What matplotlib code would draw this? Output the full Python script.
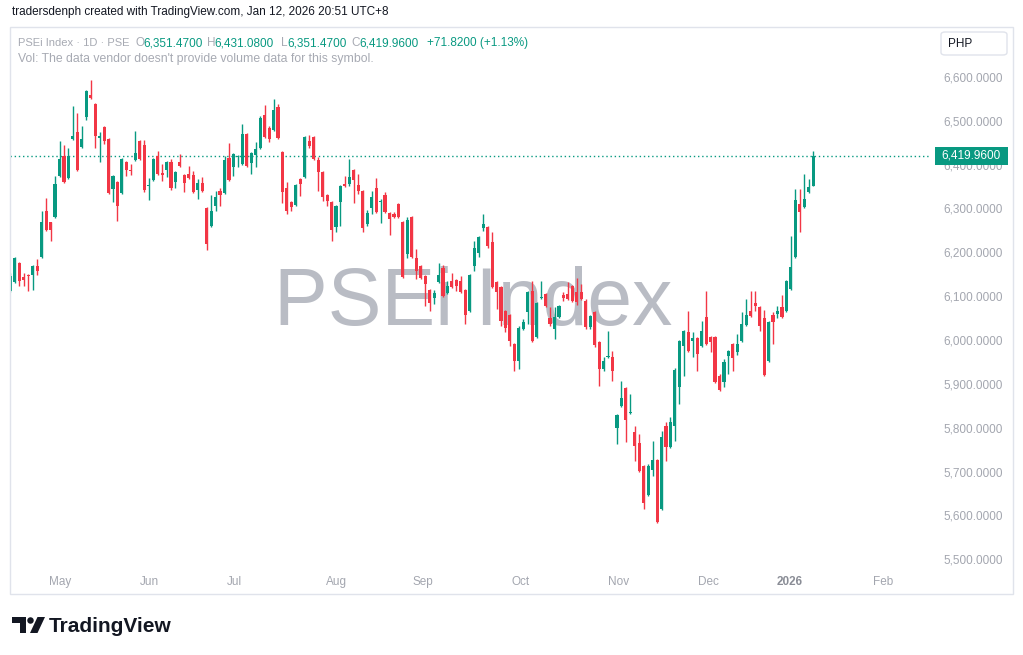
import matplotlib
matplotlib.use('Agg')
import matplotlib.pyplot as plt
import matplotlib.patches as mpatches
import numpy as np

plt.rcParams['font.family'] = ['Liberation Sans', 'DejaVu Sans']

###  DATA  (daily OHLC, PSEi)  ###

opens = [6111.7, 6132.3, 6175.6, 6143.7, 6148.2, 6148.2, 6168.7, 6189.3, 6294.1, 6269.1,
         6280.5, 6373.9, 6419.5, 6369.4, 6458.3, 6474.3, 6440.1, 6508.5, 6558.6, 6538.1,
         6460.6, 6485.7, 6458.3, 6344.3, 6360.3, 6335.2, 6405.9, 6387.6, 6410.4, 6453.7,
         6444.6, 6351.1, 6364.8, 6419.5, 6380.8, 6387.6, 6405.9, 6360.3, 6405.9, 6376.2,
         6378.5, 6376.2, 6342.0, 6358.0, 6301.0, 6260.0, 6305.5, 6339.7, 6335.2, 6415.0,
         6394.5, 6417.3, 6401.3, 6469.7, 6403.6, 6421.8, 6437.8, 6513.0, 6483.4, 6478.8,
         6531.3, 6428.7, 6346.6, 6314.7, 6307.8, 6367.1, 6371.7, 6453.7, 6462.9, 6410.4,
         6383.1, 6330.6, 6314.7, 6257.7, 6314.7, 6355.7, 6355.7, 6387.6, 6353.4, 6339.7,
         6264.5, 6301.0, 6346.6, 6314.7, 6330.6, 6289.6, 6287.3, 6310.1, 6269.1, 6196.1,
         6280.5, 6187.0, 6168.7, 6145.9, 6114.0, 6095.8, 6132.3, 6164.2, 6107.2, 6134.5,
         6136.8, 6134.5, 6114.0, 6066.1, 6168.7, 6198.4, 6255.4, 6257.7, 6223.5, 6132.3,
         6120.9, 6066.1, 6057.0, 5990.9, 5952.1, 6025.1, 6063.9, 6111.7, 6006.9, 6095.8,
         6104.9, 6050.2, 6025.1, 6052.5, 6102.6, 6104.9, 6123.1, 6109.5, 6109.5, 6089.0,
         6029.7, 6063.9, 5995.5, 5933.9, 5961.3, 5961.3, 5799.4, 5849.5, 5890.6, 5833.6,
         5790.3, 5765.2, 5712.7, 5646.6, 5703.6, 5726.4, 5614.7, 5803.9, 5756.1, 5803.9,
         5892.9, 5986.3, 6018.3, 5997.7, 6004.6, 5986.3, 6052.5, 6006.9, 6006.9, 5917.9,
         5904.3, 5963.5, 5990.9, 5972.7, 5997.7, 6034.2, 6066.1, 6084.4, 6075.3, 6050.2,
         5952.1, 6057.0, 6059.3, 6075.3, 6066.1, 6116.3, 6189.3, 6310.1, 6303.3, 6337.5,
         6351.47]
highs = [6152.8, 6189.3, 6177.9, 6152.8, 6150.5, 6170.0, 6184.7, 6294.1, 6323.8, 6270.0,
         6373.9, 6453.7, 6444.6, 6437.8, 6533.5, 6517.6, 6487.9, 6570.0, 6592.8, 6540.0,
         6474.3, 6488.0, 6460.0, 6376.0, 6362.0, 6415.0, 6408.0, 6401.3, 6476.5, 6456.0,
         6456.0, 6369.4, 6415.0, 6430.9, 6401.3, 6408.0, 6412.7, 6385.3, 6424.1, 6378.0,
         6396.7, 6385.3, 6367.1, 6371.7, 6303.0, 6330.6, 6339.7, 6346.6, 6419.5, 6449.2,
         6426.0, 6421.8, 6492.5, 6472.0, 6428.0, 6451.5, 6510.7, 6535.8, 6487.9, 6549.5,
         6538.1, 6430.9, 6360.3, 6317.0, 6355.0, 6369.0, 6465.0, 6467.4, 6465.0, 6417.3,
         6385.0, 6333.0, 6317.0, 6307.0, 6353.0, 6373.9, 6412.7, 6390.0, 6378.5, 6342.0,
         6296.4, 6339.7, 6369.4, 6321.5, 6337.5, 6292.0, 6291.9, 6312.0, 6271.3, 6280.5,
         6283.0, 6207.5, 6171.0, 6148.0, 6116.0, 6114.0, 6175.6, 6171.0, 6134.5, 6152.8,
         6139.1, 6145.9, 6116.0, 6150.0, 6225.7, 6237.0, 6287.3, 6260.0, 6246.3, 6134.0,
         6123.0, 6068.0, 6059.0, 5993.0, 6032.0, 6047.9, 6111.0, 6134.5, 6086.0, 6134.5,
         6107.0, 6075.3, 6075.3, 6079.0, 6109.5, 6132.3, 6125.0, 6141.4, 6127.7, 6093.5,
         6057.0, 6066.0, 5998.0, 5961.3, 6020.5, 5974.9, 5831.0, 5906.5, 5893.0, 5876.9,
         5803.9, 5785.7, 5715.0, 5717.3, 5769.7, 5728.0, 5792.5, 5813.1, 5824.5, 5936.2,
         6000.0, 6022.0, 6066.1, 6018.3, 6007.0, 6043.3, 6111.7, 6009.0, 6009.0, 5922.5,
         5956.7, 5977.0, 5993.0, 6013.7, 6063.9, 6093.5, 6111.7, 6111.7, 6077.0, 6068.4,
         6043.0, 6063.9, 6077.5, 6102.6, 6137.0, 6237.1, 6344.3, 6344.3, 6378.5, 6367.1,
         6431.08]
lows = [6109.5, 6130.0, 6123.1, 6123.1, 6111.7, 6114.0, 6148.2, 6187.0, 6248.0, 6225.7,
        6278.0, 6371.0, 6358.0, 6367.0, 6456.0, 6385.0, 6437.8, 6501.6, 6549.0, 6437.8,
        6405.9, 6447.0, 6332.0, 6314.7, 6271.3, 6333.0, 6373.9, 6376.2, 6409.0, 6410.0,
        6337.5, 6319.2, 6362.0, 6376.0, 6362.5, 6371.7, 6342.0, 6346.6, 6395.0, 6337.5,
        6367.1, 6335.0, 6321.5, 6337.5, 6205.2, 6258.0, 6294.1, 6305.5, 6333.0, 6362.0,
        6373.9, 6394.5, 6399.0, 6394.0, 6378.5, 6394.5, 6435.0, 6460.0, 6451.5, 6476.0,
        6458.0, 6312.4, 6287.3, 6294.1, 6305.0, 6328.3, 6369.0, 6437.8, 6410.0, 6339.7,
        6317.0, 6305.5, 6225.7, 6246.3, 6260.0, 6349.0, 6351.1, 6312.4, 6332.9, 6246.3,
        6260.0, 6287.3, 6289.0, 6266.8, 6289.0, 6239.4, 6278.0, 6278.0, 6141.0, 6187.0,
        6187.0, 6139.1, 6139.0, 6077.5, 6066.1, 6082.1, 6130.0, 6098.0, 6104.9, 6119.0,
        6111.7, 6107.0, 6036.5, 6064.0, 6157.3, 6189.3, 6248.5, 6209.8, 6118.0, 6070.7,
        6032.0, 6018.3, 5986.3, 5929.3, 5933.9, 6023.0, 6036.5, 5995.0, 6005.0, 6094.0,
        6075.0, 6032.0, 6002.3, 6050.0, 6089.0, 6092.0, 6086.7, 6079.8, 6092.0, 6025.1,
        6025.1, 5984.1, 5895.1, 5929.3, 5959.0, 5906.5, 5762.9, 5847.0, 5767.5, 5831.3,
        5724.1, 5699.0, 5614.7, 5644.0, 5689.9, 5583.0, 5612.0, 5724.1, 5754.0, 5769.7,
        5854.1, 5917.9, 5973.0, 5961.3, 5929.3, 5984.0, 5988.0, 5972.7, 5902.0, 5883.7,
        5892.9, 5922.5, 5929.3, 5965.8, 5995.5, 6032.0, 6052.0, 6066.1, 6020.5, 5918.0,
        5950.0, 5990.9, 6050.2, 6050.0, 6064.0, 6114.0, 6187.0, 6246.3, 6301.0, 6335.0,
        6351.47]
closes = [6145.9, 6187.0, 6134.5, 6136.8, 6145.9, 6168.7, 6157.3, 6269.1, 6250.8, 6250.8,
          6355.7, 6412.7, 6360.3, 6419.5, 6465.1, 6387.6, 6458.3, 6567.7, 6551.8, 6465.1,
          6465.1, 6453.7, 6335.2, 6373.9, 6305.5, 6412.7, 6387.6, 6385.3, 6426.4, 6412.7,
          6342.0, 6353.4, 6412.7, 6378.5, 6376.2, 6405.9, 6346.6, 6383.1, 6396.7, 6358.0,
          6369.4, 6337.5, 6358.0, 6339.7, 6218.9, 6294.1, 6326.1, 6330.6, 6410.4, 6364.8,
          6424.1, 6419.5, 6469.7, 6396.7, 6426.4, 6435.5, 6506.2, 6462.9, 6458.3, 6524.4,
          6460.6, 6337.5, 6294.1, 6303.3, 6353.4, 6355.7, 6462.9, 6442.3, 6412.7, 6383.1,
          6326.1, 6317.0, 6250.8, 6305.5, 6351.1, 6351.1, 6371.7, 6364.8, 6339.7, 6255.4,
          6289.6, 6326.1, 6291.9, 6317.0, 6291.9, 6275.9, 6280.5, 6280.5, 6143.7, 6273.6,
          6189.3, 6157.3, 6141.4, 6127.7, 6084.4, 6107.2, 6148.2, 6100.3, 6123.1, 6120.9,
          6123.1, 6109.5, 6057.0, 6148.2, 6209.8, 6234.9, 6264.5, 6214.3, 6120.9, 6109.5,
          6043.3, 6027.4, 5997.7, 5952.1, 6027.4, 6041.1, 6109.5, 5997.7, 6084.4, 6098.1,
          6077.5, 6036.5, 6052.5, 6077.5, 6095.8, 6093.5, 6089.0, 6086.7, 6093.5, 6029.7,
          6054.7, 5988.6, 5933.9, 5952.1, 5963.5, 5929.3, 5829.0, 5867.8, 5817.6, 5835.9,
          5758.3, 5701.3, 5628.4, 5712.7, 5726.4, 5585.1, 5778.9, 5756.1, 5813.1, 5931.6,
          5997.7, 6020.5, 5974.9, 6004.6, 5968.1, 6020.5, 5990.9, 5995.5, 5904.3, 5886.0,
          5949.8, 5974.9, 5959.0, 5990.9, 6036.5, 6057.0, 6054.7, 6077.5, 6032.0, 5920.2,
          6041.1, 6041.1, 6066.1, 6052.5, 6134.5, 6166.5, 6319.2, 6291.9, 6321.5, 6348.14,
          6419.96]

month_labels = ['May', 'Jun', 'Jul', 'Aug', 'Sep', 'Oct', 'Nov', 'Dec', '2026', 'Feb']
month_pos = [11.1, 31.2, 50.3, 73.2, 92.4, 114.4, 136.4, 156.6, 174.7, 195.8]
price_ticks = np.arange(5500, 6601, 100)

up_col = '#089981'
down_col = '#f23645'
axis_txt = '#a3a6af'
W, H = 1023, 655

###  PLOT  ###

fig = plt.figure(figsize=(W / 100, H / 100), dpi=100)
ax = fig.add_axes([10 / W, 85 / H, 920 / W, 543 / H])

o = np.array(opens)
h = np.array(highs)
l = np.array(lows)
c = np.array(closes)
idx = np.arange(len(c))
cols = np.where(c >= o, up_col, down_col)

ax.vlines(idx, l, h, colors=cols, linewidth=1, zorder=2)
body = np.maximum(np.abs(c - o), 1.5)
ax.bar(idx, body, bottom=np.minimum(o, c), width=0.7, color=cols, linewidth=0, zorder=3)

# last price line
ax.axhline(c[-1], color=up_col, linestyle=(0, (1, 2)), linewidth=1, zorder=1)

# watermark
ax.text(0.503, 0.451, 'PSEi Index', transform=ax.transAxes, ha='center', va='baseline',
        fontsize=58, color='#b2b5be', alpha=0.9, zorder=0)

ax.set_xlim(-0.1, 206.2)
ax.set_ylim(5475.5, 6713.5)
for s in ax.spines.values():
    s.set_visible(False)

ax.yaxis.tick_right()
ax.set_yticks(price_ticks)
ax.set_yticklabels(['{:,.4f}'.format(v) for v in price_ticks])
ax.tick_params(axis='y', length=0, pad=9.5, labelsize=8.5, labelcolor=axis_txt)
ax.set_xticks(month_pos)
ax.set_xticklabels(month_labels)
ax.tick_params(axis='x', length=0, pad=4, labelsize=8.5, labelcolor=axis_txt)
for lab in ax.get_xticklabels():
    if lab.get_text() == '2026':
        lab.set_fontweight('bold')
        lab.set_color('#8a8d96')

# chart frame
fig.patches.append(mpatches.Rectangle((10 / W, 1 - 594 / H), 1003 / W, 567 / H,
                                      transform=fig.transFigure, fill=False,
                                      edgecolor='#e0e3eb', linewidth=1))

# last price tag
fig.patches.append(mpatches.Rectangle((935 / W, 1 - 165 / H), 73 / W, 18 / H,
                                      transform=fig.transFigure, facecolor=up_col,
                                      edgecolor='none', zorder=5))
fig.text(971.5 / W, 1 - 156 / H, '{:,.4f}'.format(c[-1]), ha='center', va='center',
         fontsize=8.5, color='white', zorder=6)

# currency box
fig.patches.append(mpatches.FancyBboxPatch((941 / W, 1 - 55 / H), 66 / W, 23 / H,
                                           boxstyle='round,pad=0,rounding_size=0.004',
                                           transform=fig.transFigure, facecolor='white',
                                           edgecolor='#e0e3eb', linewidth=1))
fig.text(948 / W, 1 - 44 / H, 'PHP', va='center', fontsize=8.5, color='#131722')

# header
fig.text(12 / W, 1 - 12 / H, 'tradersdenph created with TradingView.com, Jan 12, 2026 20:51 UTC+8',
         va='center', fontsize=8.5, color='#131722')

chg = c[-1] - c[-2]
pct = chg / c[-2] * 100
gray = '#a7aab3'
legend_parts = [('PSEi Index \u00b7 1D \u00b7 PSE', 18, gray, 8.0),
                ('O', 135, gray, 8.5), ('{:,.4f}'.format(o[-1]), 143, up_col, 8.5),
                ('H', 207, gray, 8.5), ('{:,.4f}'.format(h[-1]), 214, up_col, 8.5),
                ('L', 281, gray, 8.5), ('{:,.4f}'.format(l[-1]), 287, up_col, 8.5),
                ('C', 351, gray, 8.5), ('{:,.4f}'.format(c[-1]), 359, up_col, 8.5),
                ('{:+.4f} ({:+.2f}%)'.format(chg, pct), 427, up_col, 8.5)]
for txt, xp, colr, fs in legend_parts:
    fig.text(xp / W, 1 - 43 / H, txt, va='center', fontsize=fs, color=colr)
fig.text(18 / W, 1 - 59 / H, "Vol: The data vendor doesn't provide volume data for this symbol.",
         va='center', fontsize=8.8, color=gray)

# TradingView logo + wordmark
def px(x, y):
    return (x / W, 1 - y / H)

fig.patches.append(mpatches.Rectangle(px(12, 623), 14 / W, 6 / H, transform=fig.transFigure,
                                      facecolor='#131722', edgecolor='none'))
fig.patches.append(mpatches.Rectangle(px(19.5, 633), 6.5 / W, 16 / H, transform=fig.transFigure,
                                      facecolor='#131722', edgecolor='none'))
fig.patches.append(mpatches.Ellipse(px(30.5, 620.5), 6.5 / W, 6.5 / H, transform=fig.transFigure,
                                    facecolor='#131722', edgecolor='none'))
fig.patches.append(mpatches.Polygon([px(30, 633), px(37.5, 633), px(45, 617), px(37.5, 617)],
                                    closed=True, transform=fig.transFigure,
                                    facecolor='#131722', edgecolor='none'))
fig.text(49 / W, 1 - 632 / H, 'TradingView', va='baseline', fontsize=15, fontweight='bold',
         color='#131722')

fig.savefig('out.png', dpi=100, facecolor='white')
